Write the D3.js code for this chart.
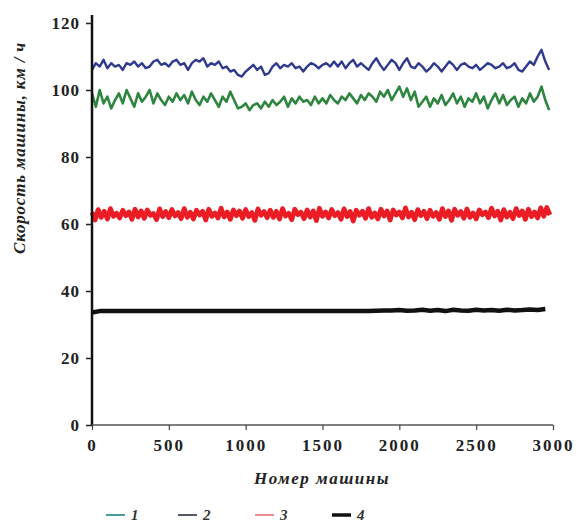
<!DOCTYPE html>
<html><head><meta charset="utf-8">
<script src="https://cdn.jsdelivr.net/npm/d3@7"></script>
<style>body{margin:0;background:#fff}svg{display:block}</style>
</head><body>
<svg id="c" width="585" height="527"></svg>
<script>
// ---- data ----
const seriesNames = ["1", "2", "3", "4"];
const xTicks = [0, 500, 1000, 1500, 2000, 2500, 3000];
const yTicks = [0, 20, 40, 60, 80, 100, 120];
const step1 = 25, step2 = 25, step3 = 20, step4 = 50;
const series1 = [106,108,107,109,106.5,108,107,107.5,106,108,107.5,108.5,107,108,106.5,107,108.5,109,107.5,108,107,
  108.5,109,107.5,108,106,108,109,108.5,109.5,107,108,107.5,108.5,106.5,107,105.5,106,104.5,104,105.5,
  106.5,107.5,106,107,104.5,105,107,108,106.5,107.5,107,108,106.5,107,105.5,107,108,107.5,106.5,107.5,
  108,107,108.5,107,108.5,106.5,108,109,107,108,107,106,108,109.5,107.5,106,107.5,109,108,106,
  108,109.5,107,106.5,108,107,105.5,106.5,108,107,105.5,107,108.5,107.5,106,107.5,108,107,106.5,107.5,
  106,107,108,107.5,106.5,107,108,106.5,107,108,106,105.5,107,108.5,107.5,110,112,108.5,106];
const series2 = [99,95,100,96,98,94.5,97,99,96,100,97.5,95,99,96.5,98,100,96,99,97,95.5,98,
  96.5,99,97,98.5,96,99.5,97,95.5,98,96.5,99,97,95,98,96.5,99.5,97,94.5,95,96,
  94,95.5,96,94.5,96.5,95,97,95.5,96.5,98,95,97.5,96,98,96.5,97,95.5,98,96,97.5,
  96,98.5,97,96,98,97,99,97.5,96,98.5,97,99,98,96.5,99.5,98,100,97,99,101,
  98,100.5,97,99.5,95,96.5,98,95,97.5,96,98.5,95.5,97,99,96,98,95,97.5,96.5,99,
  96,98,94.5,97,99,96,98.5,95.5,97,98,95,97.5,96,99,96.5,98,101,97,94];
const series3 = [63.5,61.2,64.3,62,63.8,61.5,64.6,62.3,63.2,61.8,
  64.1,62.5,63.6,61.4,64.4,62.1,63.9,61.7,64.2,62.6,
  63.1,61.3,64.5,62.2,63.7,61.9,64.3,62.4,63.4,61.6,
  64.6,62,63.5,61.5,64.1,62.7,63.8,61.2,64.4,62.3,
  63.3,61.8,64.7,62.1,63.6,61.4,64.2,62.5,63.9,61.7,
  64.3,62.2,63.4,61.1,64.5,62.6,63.7,61.9,64.1,62,
  63.8,61.5,64.6,62.4,63.2,61.3,64.4,62.8,63.5,61.6,
  64.2,62.1,63.9,61,64.7,62.3,63.6,61.8,64.3,62.5,
  63.4,61.4,64.5,62.2,63.7,60.9,64.1,62.6,63.8,61.7,
  64.6,62,63.3,61.5,64.4,62.4,63.9,61.2,64.2,62.7,
  63.6,61.8,64.8,62.1,63.5,61.3,64.3,62.5,63.8,61.6,
  64.1,62.3,63.4,61.4,64.6,62.2,63.9,61.1,64.4,62.6,
  63.7,61.7,64.5,62,63.3,61.5,64.2,62.8,63.6,61.9,
  64.7,62.4,63.8,61.2,64.3,62.1,63.5,61.6,64.6,62.5,
  63.9,61.4,64.4,62.2,63.6,61.8,64.8,62.3,64.9,62.7];
const series4 = [33.6,34,34,34,34,34,34,34,34,34,
  34,34,34,34,34,34,34,34,34,34,
  34,34,34,34,34,34,34,34,34,34,
  34,34,34,34,34,34,34,34.1,34.2,34.2,
  34.3,34.1,34.2,34.4,34.1,34.3,34,34.4,34.2,34.1,
  34.4,34.2,34.3,34.1,34.4,34.2,34.3,34.5,34.3,34.6];
const colors = ["#2f3a8f", "#2e8540", "#ec1c24", "#111111"];
const legendColors = ["#4a9a9a", "#555b66", "#ef8a90", "#111111"];

// ---- layout ----
const svg = d3.select("#c");
const x = d3.scaleLinear().domain([0, 3000]).range([92, 553]);
const y = d3.scaleLinear().domain([0, 120]).range([425, 23]);

const allSeries = [
  {vals: series1, step: step1, color: colors[0], w: 2.4},
  {vals: series2, step: step2, color: colors[1], w: 2.6},
  {vals: series3, step: step3, color: colors[2], w: 4.8},
  {vals: series4, step: step4, color: colors[3], w: 4.5}
];
const line = d3.line().x(d => x(d[0])).y(d => y(d[1]));
allSeries.forEach(s => {
  const pts = s.vals.map((v, i) => [i * s.step, v]);
  svg.append("path").attr("d", line(pts)).attr("fill", "none")
    .attr("stroke", s.color).attr("stroke-width", s.w).attr("stroke-linejoin", "round");
});

// axes
const font = "'Liberation Serif', 'DejaVu Serif', serif";
const yAxis = svg.append("g").attr("transform", "translate(92,0)")
  .call(d3.axisLeft(y).tickValues(yTicks).tickFormat(d3.format("d")).tickSize(6).tickPadding(6));
yAxis.select(".domain").attr("d", "M0,15V425").attr("stroke", "#111").attr("stroke-width", 2.5);
yAxis.selectAll(".tick line").attr("stroke", "#222").attr("stroke-width", 1.5);
yAxis.selectAll("text").attr("font-family", font).attr("font-size", 17).attr("font-weight", "bold")
  .attr("letter-spacing", 1).attr("fill", "#222");

const xAxis = svg.append("g").attr("transform", "translate(0,425)")
  .call(d3.axisBottom(x).tickValues(xTicks).tickFormat(d3.format("d")).tickSize(5).tickPadding(9));
xAxis.select(".domain").attr("d", "M92,0H553").attr("stroke", "#555").attr("stroke-width", 1.5);
xAxis.selectAll(".tick line").attr("stroke", "#444").attr("stroke-width", 1.2);
xAxis.selectAll("text").attr("font-family", font).attr("font-size", 17).attr("font-weight", "bold")
  .attr("letter-spacing", 2).attr("fill", "#222");

// axis titles
svg.append("text").attr("x", 322).attr("y", 484).attr("text-anchor", "middle")
  .attr("font-family", font).attr("font-style", "italic").attr("font-weight", "bold")
  .attr("font-size", 17).attr("letter-spacing", 1.5).attr("fill", "#222").text("Номер машины");
svg.append("text").attr("transform", "translate(25,148) rotate(-90)").attr("text-anchor", "middle")
  .attr("font-family", font).attr("font-style", "italic").attr("font-weight", "bold")
  .attr("font-size", 17).attr("letter-spacing", 0.8).attr("fill", "#222").text("Скорость машины, км / ч");

// legend
const legX = [106, 178, 255, 332];
const lg = svg.append("g");
seriesNames.forEach((n, i) => {
  lg.append("line").attr("x1", legX[i]).attr("x2", legX[i] + 19).attr("y1", 515).attr("y2", 515)
    .attr("stroke", legendColors[i]).attr("stroke-width", i === 3 ? 3.5 : 2);
  lg.append("text").attr("x", legX[i] + 25).attr("y", 520)
    .attr("font-family", font).attr("font-style", "italic").attr("font-weight", "bold")
    .attr("font-size", 15).attr("fill", "#333").text(n);
});
</script>
</body></html>
